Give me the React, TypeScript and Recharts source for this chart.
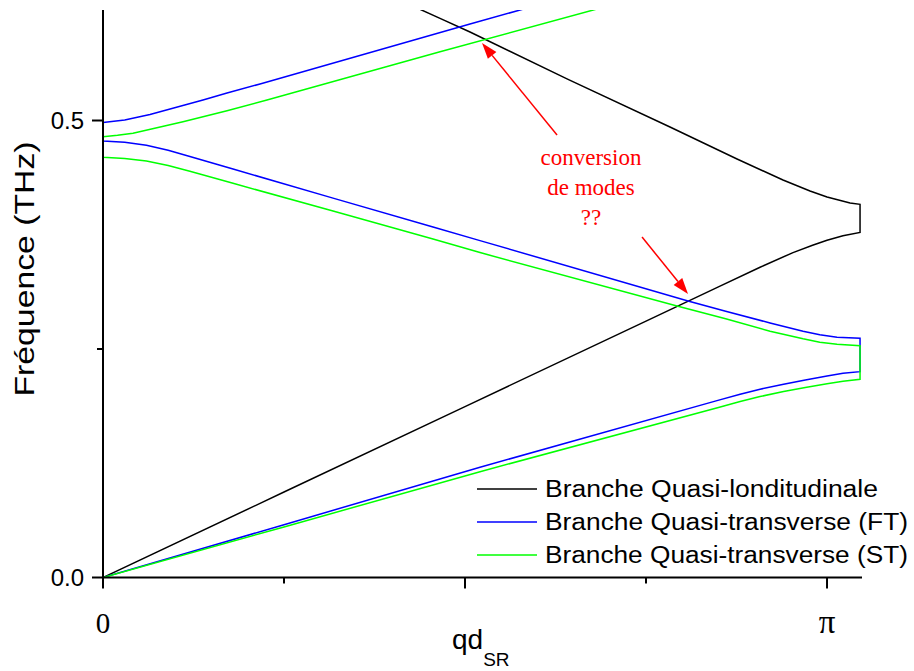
import React from "react";
import { LineChart, Line, XAxis, YAxis, ReferenceLine, ReferenceDot } from "recharts";

const SANS = "'Liberation Sans', Arial, sans-serif";
const SERIF = "'Liberation Serif', 'Times New Roman', serif";

// qd_SR en unités de π, fréquence en THz
// chaque branche est un tracé continu (aller puis retour en bord de zone)
const qLongi = [0, 0.25, 0.5, 0.75, 0.85, 0.9075, 0.953, 0.98, 1.0, 1.022, 1.0456,
  1.0456, 1.0318, 1.0, 0.9765, 0.9392, 0.8757, 0.7831, 0.6423, 0.5069, 0.4655, 0.42];
const fLongi = [0, 0.0935, 0.187, 0.2805, 0.318, 0.3394, 0.3555, 0.3635, 0.369, 0.374, 0.3775,
  0.4083, 0.4097, 0.4163, 0.4229, 0.4349, 0.4579, 0.4929, 0.545, 0.5968, 0.6118, 0.628];

const qFT = [0.6, 0.5069, 0.2169, 0.1713, 0.1381, 0.0649, 0.03, 0,
  0, 0.03, 0.06, 0.09, 0.12, 0.1796, 0.3177, 0.4558, 0.5207, 0.808, 0.86, 0.9213, 0.9669, 0.99, 1.0138, 1.0456,
  1.0456, 1.0221, 1.0, 0.97, 0.94, 0.9075, 0.88, 0.848, 0.5207, 0.25, 0];
const fFT = [0.6262, 0.6056, 0.54, 0.53, 0.5224, 0.5065, 0.5005, 0.4978,
  0.4776, 0.4762, 0.4728, 0.4675, 0.4607, 0.4469, 0.4151, 0.3835, 0.3686, 0.3025, 0.2912, 0.2785, 0.2695, 0.2655, 0.2628, 0.2617,
  0.2252, 0.2235, 0.2205, 0.216, 0.2115, 0.206, 0.2005, 0.1935, 0.1206, 0.0578, 0];

const qST = [0.7, 0.4655, 0.2265, 0.1713, 0.1105, 0.0414, 0.02, 0,
  0, 0.03, 0.06, 0.09, 0.12, 0.1796, 0.3177, 0.4558, 0.5207, 0.7928, 0.86, 0.9213, 0.9669, 0.99, 1.0138, 1.0456,
  1.0456, 1.0221, 1.0, 0.97, 0.94, 0.9075, 0.88, 0.85, 0.5207, 0.25, 0];
const fST = [0.6258, 0.5753, 0.5224, 0.5107, 0.4987, 0.486, 0.4838, 0.4823,
  0.4597, 0.4585, 0.4556, 0.4508, 0.4444, 0.4313, 0.401, 0.3703, 0.3555, 0.2971, 0.2832, 0.2695, 0.2612, 0.2575, 0.2552, 0.2536,
  0.2168, 0.2147, 0.212, 0.208, 0.2035, 0.198, 0.1925, 0.186, 0.1158, 0.0553, 0];

const seriesNames = [
  "Branche Quasi-londitudinale",
  "Branche Quasi-transverse (FT)",
  "Branche Quasi-transverse (ST)",
];
const seriesColors = ["#000000", "#0000ff", "#00ff00"];
const seriesQ = [qLongi, qFT, qST];
const seriesF = [fLongi, fFT, fST];

const xTicks = [0, 0.25, 0.5, 0.75, 1];
const xMajor = [0, 0.5, 1];
const xLabels: Record<string, string> = { "0": "0", "1": "π" };
const yTicks = [0, 0.25, 0.5];
const yMajor = [0, 0.5];
const yLabels: Record<string, string> = { "0": "0.0", "0.5": "0.5" };

const arrows = [
  [{ x: 0.6271, y: 0.4842 }, { x: 0.5235, y: 0.5848 }],
  [{ x: 0.7445, y: 0.3725 }, { x: 0.808, y: 0.3102 }],
];
const noteLines = ["conversion", "de modes", "??"];

const XTick = (props: any) => {
  const { x, y, payload } = props;
  const v = payload.value;
  const major = xMajor.includes(v);
  const label = xLabels[String(v)];
  return (
    <g>
      <line x1={x} x2={x} y1={y} y2={y + (major ? 11 : 6)} stroke="#000" strokeWidth={2} />
      {label && (
        <text
          x={x}
          y={y + 55}
          textAnchor="middle"
          fontFamily={SERIF}
          fontSize={v === 1 ? 33 : 29}
          fill="#000"
        >
          {label}
        </text>
      )}
    </g>
  );
};

const YTick = (props: any) => {
  const { x, y, payload } = props;
  const v = payload.value;
  const major = yMajor.includes(v);
  const label = yLabels[String(v)];
  return (
    <g>
      <line x1={x - (major ? 11 : 6)} x2={x} y1={y} y2={y} stroke="#000" strokeWidth={2} />
      {label && (
        <text x={x - 19} y={y + 8.5} textAnchor="end" fontFamily={SANS} fontSize={24} fill="#000">
          {label}
        </text>
      )}
    </g>
  );
};

const Arrow = (props: any) => {
  const { x1, y1, x2, y2 } = props;
  const dx = x2 - x1;
  const dy = y2 - y1;
  const len = Math.hypot(dx, dy);
  const ux = dx / len;
  const uy = dy / len;
  const hl = 16;
  const hw = 5.5;
  const bx = x2 - ux * hl;
  const by = y2 - uy * hl;
  return (
    <g>
      <line x1={x1} y1={y1} x2={bx} y2={by} stroke="#ff0000" strokeWidth={1.5} />
      <polygon
        points={`${x2},${y2} ${bx - uy * hw},${by + ux * hw} ${bx + uy * hw},${by - ux * hw}`}
        fill="#ff0000"
      />
    </g>
  );
};

const Note = (props: any) => {
  const { cx, cy } = props;
  return (
    <g>
      {noteLines.map((t, i) => (
        <text
          key={t}
          x={cx}
          y={cy + (i - 1) * 30}
          textAnchor="middle"
          fontFamily={SERIF}
          fontSize={23}
          fill="#ff0000"
        >
          {t}
        </text>
      ))}
    </g>
  );
};

export default function App() {
  const legendLens = [333, 363, 363];
  return (
    <div style={{ position: "absolute", left: 0, top: 0, width: 914, height: 671, background: "#fff" }}>
      <LineChart
        width={914}
        height={671}
        margin={{ top: 10, right: 52, bottom: 33.5, left: 43 }}
      >
        <XAxis
          type="number"
          dataKey="q"
          domain={[0, 1.0483]}
          ticks={xTicks}
          tick={<XTick />}
          tickSize={0}
          tickMargin={0}
          tickLine={false}
          axisLine={{ stroke: "#000", strokeWidth: 2 }}
          height={60}
          allowDataOverflow
        />
        <YAxis
          type="number"
          dataKey="f"
          domain={[0, 0.6209]}
          ticks={yTicks}
          tick={<YTick />}
          tickSize={0}
          tickMargin={0}
          tickLine={false}
          axisLine={{ stroke: "#000", strokeWidth: 2 }}
          width={60}
          allowDataOverflow
        />
        {seriesNames.map((name, s) => (
          <Line
            key={name}
            name={name}
            data={seriesQ[s].map((q, i) => ({ q, f: seriesF[s][i] }))}
            dataKey="f"
            type="linear"
            stroke={seriesColors[s]}
            strokeWidth={1.5}
            dot={false}
            activeDot={false}
            isAnimationActive={false}
          />
        ))}
        {arrows.map((seg, i) => (
          <ReferenceLine key={i} segment={seg} shape={Arrow} />
        ))}
        <ReferenceDot x={0.674} y={0.4185} r={0} shape={Note} />
      </LineChart>
      <svg
        width={914}
        height={671}
        style={{ position: "absolute", left: 0, top: 0, pointerEvents: "none" }}
      >
        <text
          transform="translate(34,269) rotate(-90)"
          textAnchor="middle"
          fontFamily={SANS}
          fontSize={28}
          fill="#000"
          textLength={255}
          lengthAdjust="spacingAndGlyphs"
        >
          Fréquence (THz)
        </text>
        <text x={452} y={649} fontFamily={SANS} fontSize={28} fill="#000">
          qd
          <tspan fontSize={19} dy={17}>SR</tspan>
        </text>
        {seriesNames.map((name, s) => (
          <g key={name}>
            <line x1={477} x2={537} y1={489 + s * 33} y2={489 + s * 33} stroke={seriesColors[s]} strokeWidth={1.5} />
            <text
              x={545}
              y={497 + s * 33}
              fontFamily={SANS}
              fontSize={23}
              fill="#000"
              textLength={legendLens[s]}
              lengthAdjust="spacingAndGlyphs"
            >
              {name}
            </text>
          </g>
        ))}
      </svg>
    </div>
  );
}
